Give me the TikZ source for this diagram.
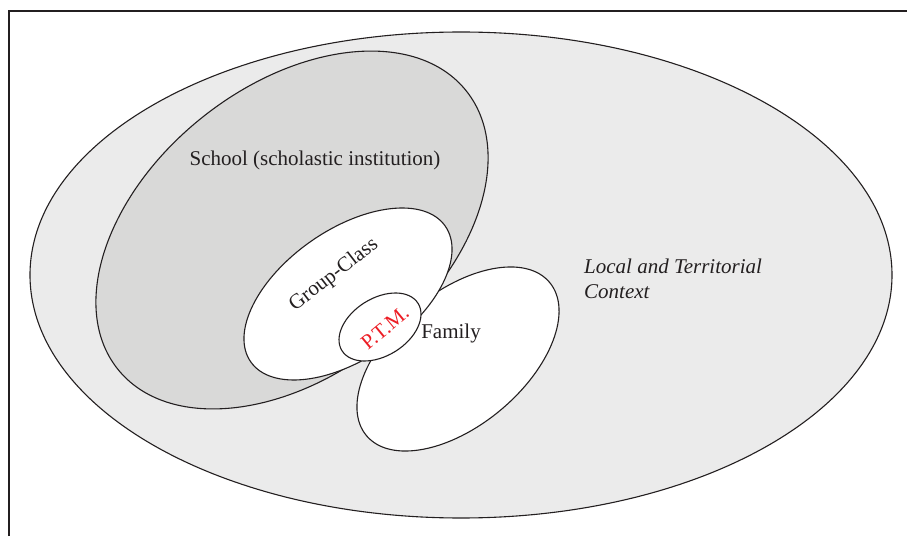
\documentclass[tikz,border=0pt]{standalone}
\usepackage{fontspec}
\setmainfont{Liberation Serif}
\definecolor{outerfill}{RGB}{235,235,235}
\definecolor{schoolfill}{RGB}{217,217,216}
\definecolor{ink}{RGB}{35,31,32}
\definecolor{ptmred}{RGB}{237,28,36}
\tikzset{
  zone/.style={draw=ink, line width=1.1pt},
  lbl/.style={text=ink, inner sep=0pt, font=\fontsize{21}{25}\selectfont},
}
\begin{document}
\begin{tikzpicture}[x=1pt,y=1pt]
\useasboundingbox (0,0) rectangle (907,536);
% frame
\draw[ink, line width=1.9pt] (9,0) -- (9,525) -- (907,525);
% outer context
\draw[zone, fill=outerfill] (461,261) ellipse [x radius=431, y radius=243];
% school
\draw[zone, fill=schoolfill, rotate around={38.6:(292,306)}] (292,306) ellipse [x radius=223, y radius=144];
% family
\draw[zone, fill=white, rotate around={39.9:(458,177)}] (458,177) ellipse [x radius=119.4, y radius=66.5];
% group-class
\draw[zone, fill=white, rotate around={34.9:(348,242)}] (348,242) ellipse [x radius=118.6, y radius=64.4];
% PTM
\draw[zone, fill=white, rotate around={31.8:(380,209)}] (380,209) ellipse [x radius=44.8, y radius=28.8];
% labels
\node[lbl, anchor=base] (school) at (315,370) {School (scholastic institution)};
\node[lbl, rotate=37.8] (group) at (334,261) {Group-Class};
\node[lbl, rotate=39.6, text=ptmred] (ptm) at (385,208) {P.T.M.};
\node[lbl, anchor=base] (family) at (451,198) {Family};
\node[lbl, anchor=base west, align=left, font=\fontsize{21}{25}\selectfont\itshape] (context) at (584,237) {Local and Territorial\\Context};
\end{tikzpicture}
\end{document}
